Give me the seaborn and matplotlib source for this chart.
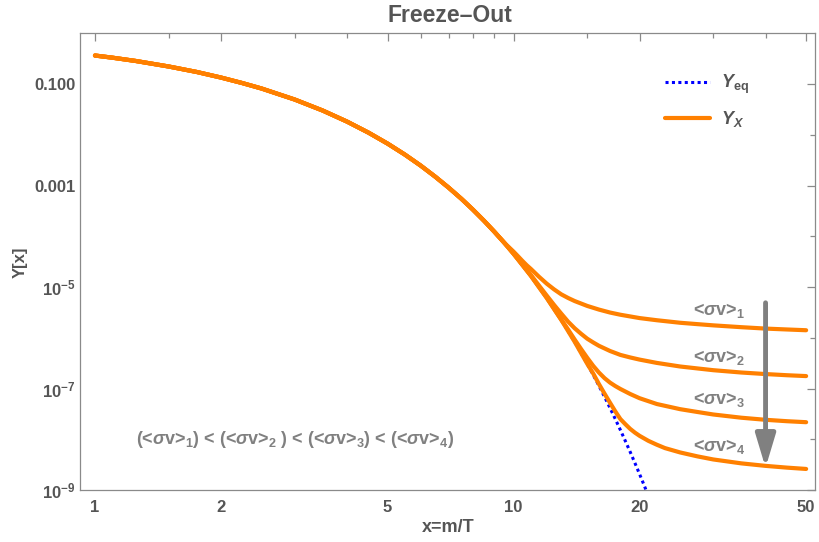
import numpy as np
import pandas as pd
import matplotlib
matplotlib.use("Agg")
import matplotlib.pyplot as plt
from matplotlib.lines import Line2D
from matplotlib.ticker import FixedLocator, FixedFormatter, NullFormatter
import seaborn as sns

# ---- data -------------------------------------------------------------
# equilibrium yield Y_eq(x)
x_eq = [1, 1.1, 1.25, 1.5, 1.75, 2, 2.25, 2.5, 3, 3.5, 4, 4.5, 5, 5.5, 6,
        6.5, 7, 7.5, 8, 8.5, 9, 9.5, 10, 11, 12, 13, 14, 15, 15.5, 16,
        16.5, 17, 17.5, 18, 18.5, 19, 19.5, 20, 20.5, 21]
y_eq = [0.367, 0.333, 0.287, 0.223, 0.174, 0.135, 0.105, 0.0821, 0.0498,
        0.0302, 0.0183, 0.0111, 6.74e-3, 4.09e-3, 2.48e-3, 1.50e-3, 9.1e-4,
        5.53e-4, 3.35e-4, 2.03e-4, 1.23e-4, 7.49e-5, 4.54e-5, 1.67e-5,
        6.14e-6, 2.26e-6, 8.3e-7, 3.06e-7, 1.86e-7, 1.13e-7, 6.83e-8,
        4.14e-8, 2.51e-8, 1.52e-8, 9.2e-9, 5.6e-9, 3.39e-9, 2.06e-9,
        1.25e-9, 7.6e-10]

# shared early part of every relic curve (still in equilibrium)
x_early = [1, 1.1, 1.25, 1.5, 1.75, 2, 2.25, 2.5, 3, 3.5, 4, 4.5, 5, 5.5,
           6, 6.5, 7, 7.5, 8, 8.5, 9, 9.5]
y_early = [0.367, 0.333, 0.287, 0.223, 0.174, 0.135, 0.105, 0.0821, 0.0498,
           0.0302, 0.0183, 0.0111, 6.74e-3, 4.09e-3, 2.48e-3, 1.50e-3,
           9.1e-4, 5.53e-4, 3.35e-4, 2.03e-4, 1.23e-4, 7.49e-5]

# freeze-out branches for <sigma v>_1 ... <sigma v>_4
x_b1 = [10, 10.25, 10.5, 10.75, 11, 11.5, 12, 12.5, 13, 13.5, 14, 15, 16,
        17, 18, 20, 22, 25, 27.5, 30, 35, 40, 45, 50]
y_b1 = [5.0e-5, 4.05e-5, 3.28e-5, 2.7e-5, 2.28e-5, 1.6e-5, 1.17e-5, 9.0e-6,
        7.2e-6, 6.1e-6, 5.3e-6, 4.25e-6, 3.6e-6, 3.15e-6, 2.85e-6, 2.45e-6,
        2.22e-6, 1.98e-6, 1.86e-6, 1.76e-6, 1.62e-6, 1.52e-6, 1.46e-6,
        1.41e-6]

x_b2 = [10, 10.5, 11, 11.5, 12, 12.5, 13, 13.5, 14, 14.5, 15, 15.5, 16,
        17, 18, 19, 20, 22, 25, 27.5, 30, 35, 40, 45, 50]
y_b2 = [4.56e-5, 2.8e-5, 1.73e-5, 1.074e-5, 6.82e-6, 4.44e-6, 3.0e-6,
        2.08e-6, 1.54e-6, 1.2e-6, 9.6e-7, 8.1e-7, 6.95e-7, 5.5e-7, 4.6e-7,
        4.1e-7, 3.72e-7, 3.2e-7, 2.72e-7, 2.49e-7, 2.3e-7, 2.07e-7,
        1.93e-7, 1.83e-7, 1.76e-7]

x_b3 = [10, 11, 12, 13, 13.5, 14, 14.5, 15, 15.5, 16, 16.5, 17, 17.5, 18,
        19, 20, 22, 25, 27.5, 30, 35, 40, 45, 50]
y_b3 = [4.54e-5, 1.67e-5, 6.15e-6, 2.28e-6, 1.458e-6, 9.2e-7, 6.0e-7,
        4.03e-7, 2.8e-7, 2.06e-7, 1.6e-7, 1.31e-7, 1.12e-7, 9.8e-8, 7.8e-8,
        6.45e-8, 4.95e-8, 3.92e-8, 3.45e-8, 3.08e-8, 2.66e-8, 2.42e-8,
        2.27e-8, 2.17e-8]

x_b4 = [10, 11, 12, 13, 14, 15, 15.5, 16, 16.5, 17, 17.5, 18, 18.5, 19,
        19.5, 20, 21, 22, 23, 25, 27.5, 30, 35, 40, 45, 50]
y_b4 = [4.54e-5, 1.67e-5, 6.14e-6, 2.26e-6, 8.32e-7, 3.07e-7, 1.977e-7,
        1.22e-7, 7.9e-8, 5.25e-8, 3.55e-8, 2.5e-8, 1.98e-8, 1.6e-8, 1.35e-8,
        1.17e-8, 9.3e-9, 7.8e-9, 6.7e-9, 5.5e-9, 4.6e-9, 4.0e-9, 3.35e-9,
        2.99e-9, 2.76e-9, 2.6e-9]

branch_names = ["<σv>1", "<σv>2", "<σv>3", "<σv>4"]
branch_labels = [r"<$\mathit{\sigma}$v>$_{1}$", r"<$\mathit{\sigma}$v>$_{2}$",
                 r"<$\mathit{\sigma}$v>$_{3}$", r"<$\mathit{\sigma}$v>$_{4}$"]
label_x = [31, 31, 31, 31]
label_y = [3.5e-6, 4.0e-7, 6.1e-8, 7.3e-9]

x_major = [1, 2, 5, 10, 20, 50]
x_major_labels = ["1", "2", "5", "10", "20", "50"]
x_minor = [1.5, 3, 4, 6, 7, 8, 9, 15, 30, 40]
y_major = [1e-9, 1e-7, 1e-5, 1e-3, 1e-1]
y_major_labels = [r"10$^{-9}$", r"10$^{-7}$", r"10$^{-5}$", "0.001", "0.100"]
y_minor = [1e-8, 1e-6, 1e-4, 1e-2]

# ---- style ------------------------------------------------------------
sns.set_theme(style="white")
plt.rcParams["font.family"] = ["Liberation Sans", "DejaVu Sans"]
plt.rcParams["mathtext.fontset"] = "custom"
plt.rcParams["mathtext.rm"] = "Liberation Sans:bold"
plt.rcParams["mathtext.bf"] = "Liberation Sans:bold"
plt.rcParams["mathtext.sf"] = "Liberation Sans:bold"
plt.rcParams["mathtext.it"] = "Liberation Sans:italic:bold"

ORANGE = "#ff8000"
TEXT = "#555555"
NOTE = "#808080"
FRAME = "#8a8a8a"

fig = plt.figure(figsize=(8.2, 5.42), dpi=100)
ax = fig.add_axes([80 / 820, 52 / 542, 735 / 820, 457 / 542])
ax.set_xscale("log")
ax.set_yscale("log")

# ---- curves -----------------------------------------------------------
frames = []
for name, bx, by in zip(branch_names, [x_b1, x_b2, x_b3, x_b4],
                        [y_b1, y_b2, y_b3, y_b4]):
    frames.append(pd.DataFrame({"x": x_early + bx, "Y": y_early + by,
                                "branch": name}))
relic = pd.concat(frames, ignore_index=True)
eq = pd.DataFrame({"x": x_eq, "Y": y_eq})

sns.lineplot(data=eq, x="x", y="Y", ax=ax, color="blue", lw=2.2,
             linestyle=(0, (1, 1.1)), estimator=None, zorder=2)
sns.lineplot(data=relic, x="x", y="Y", units="branch", estimator=None,
             sort=False, ax=ax, color=ORANGE, lw=3.0, zorder=3)

ax.set_xlim(0.921, 52.5)
ax.set_ylim(1e-9, 1.02)

# ---- ticks & frame ----------------------------------------------------
ax.xaxis.set_major_locator(FixedLocator(x_major))
ax.xaxis.set_major_formatter(FixedFormatter(x_major_labels))
ax.xaxis.set_minor_locator(FixedLocator(x_minor))
ax.xaxis.set_minor_formatter(NullFormatter())
ax.yaxis.set_major_locator(FixedLocator(y_major))
ax.yaxis.set_major_formatter(FixedFormatter(y_major_labels))
ax.yaxis.set_minor_locator(FixedLocator(y_minor))
ax.yaxis.set_minor_formatter(NullFormatter())

ax.tick_params(which="both", direction="in", top=True, right=True,
               color=FRAME, width=0.9)
ax.tick_params(which="major", length=5.5, labelsize=12, labelcolor=TEXT)
ax.tick_params(axis="y", which="major", pad=3)
ax.tick_params(axis="x", which="major", pad=7)
ax.tick_params(which="minor", length=3.5)
for lab in ax.get_xticklabels() + ax.get_yticklabels():
    lab.set_fontweight("bold")
for sp in ax.spines.values():
    sp.set_color(FRAME)
    sp.set_linewidth(0.9)

ax.set_xlabel("")
ax.set_ylabel("")
fig.text(450 / 820, 1 - 15 / 542, "Freeze–Out", ha="center", va="center",
         fontsize=16.5, fontweight="bold", color=TEXT)
fig.text(448 / 820, 1 - 528 / 542, "x=m/T", ha="center", va="center",
         fontsize=13, fontweight="bold", color=TEXT)
fig.text(20 / 820, 1 - 262 / 542, "Y[x]", ha="center", va="center",
         rotation=90, fontsize=12, fontweight="bold", color=TEXT)

# ---- annotations ------------------------------------------------------
for lx, ly, txt in zip(label_x, label_y, branch_labels):
    ax.text(lx, ly, txt, ha="center", va="center", fontsize=13,
            fontweight="bold", color=NOTE)
ax.text(3.0, 1.0e-8,
        r"(<$\mathit{\sigma}$v>$_{1}$) < (<$\mathit{\sigma}$v>$_{2}$ ) < "
        r"(<$\mathit{\sigma}$v>$_{3}$) < (<$\mathit{\sigma}$v>$_{4}$)",
        ha="center", va="center", fontsize=13, fontweight="bold",
        color=NOTE)
ax.annotate("", xy=(40, 2.75e-9), xytext=(40, 4.9e-6),
            arrowprops=dict(arrowstyle="-|>,head_length=2.0,head_width=0.6",
                            color=NOTE, lw=3.5, shrinkA=0, shrinkB=0,
                            mutation_scale=10))

# ---- legend -----------------------------------------------------------
handles = [Line2D([], [], color="blue", lw=2.2, linestyle=(0, (1, 1.1))),
           Line2D([], [], color=ORANGE, lw=3.0)]
labels = [r"$\mathit{Y}_{\mathrm{eq}}$", r"$\mathit{Y}_{\mathit{X}}$"]
ax.legend(handles, labels, loc="upper left",
          bbox_to_anchor=(649 / 820, 1 - 57 / 542),
          bbox_transform=fig.transFigure, frameon=False, fontsize=13,
          handlelength=2.5, handletextpad=0.6, labelspacing=0.72,
          labelcolor=TEXT)

fig.savefig("out.png", dpi=100)
